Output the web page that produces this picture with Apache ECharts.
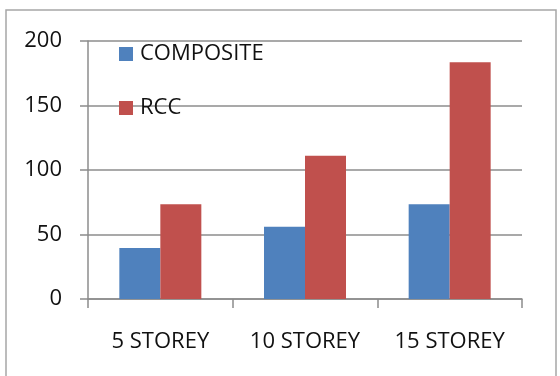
<!DOCTYPE html>
<html>
<head>
<meta charset="utf-8">
<script src="https://cdn.jsdelivr.net/npm/echarts@6/dist/echarts.min.js"></script>
<style>
  html, body { margin: 0; padding: 0; background: #fff; }
  #chart { width: 560px; height: 376px; }
</style>
</head>
<body>
<div id="chart"></div>
<script>
// Building categories and the two framing systems compared
const categories = ['5 STOREY', '10 STOREY', '15 STOREY'];
const compositeValues = [39.5, 56, 73.5];
const rccValues = [73.5, 111, 183.5];
const yTicks = { min: 0, max: 200, interval: 50 };

const FONT = '"Open Sans", "DejaVu Sans", sans-serif';
const AXIS_GRAY = '#8c8c8c';
const TEXT_COLOR = '#111111';

const chart = echarts.init(document.getElementById('chart'), null, { renderer: 'canvas' });

chart.setOption({
  animation: false,
  backgroundColor: '#ffffff',
  textStyle: { fontFamily: FONT },
  graphic: [
    {
      type: 'rect',
      shape: { x: 6, y: 10, width: 550, height: 400 },
      style: { fill: 'none', stroke: '#a6a6a6', lineWidth: 1.5 },
      z: -1
    }
  ],
  legend: {
    orient: 'vertical',
    left: 114,
    top: 38,
    itemWidth: 14,
    itemHeight: 14,
    itemGap: 32,
    icon: 'rect',
    textStyle: {
      fontFamily: FONT,
      fontSize: 22,
      lineHeight: 22,
      color: TEXT_COLOR,
      padding: [0, 0, 0, 2]
    },
    data: ['COMPOSITE', 'RCC']
  },
  grid: { left: 88, right: 38, top: 41, bottom: 77 },
  xAxis: {
    type: 'category',
    data: categories,
    axisLine: { show: true, lineStyle: { color: AXIS_GRAY, width: 1.5 } },
    axisTick: { show: true, length: 9, alignWithLabel: false, lineStyle: { color: AXIS_GRAY, width: 1.5 } },
    axisLabel: { fontFamily: FONT, fontSize: 22, color: TEXT_COLOR, margin: 32 }
  },
  yAxis: {
    type: 'value',
    min: yTicks.min,
    max: yTicks.max,
    interval: yTicks.interval,
    axisLine: { show: true, lineStyle: { color: AXIS_GRAY, width: 1.5 } },
    axisTick: { show: true, length: 8, lineStyle: { color: AXIS_GRAY, width: 1.5 } },
    axisLabel: { fontFamily: FONT, fontSize: 22, color: TEXT_COLOR, margin: 26 },
    splitLine: { show: true, lineStyle: { color: AXIS_GRAY, width: 1.5 } }
  },
  series: [
    {
      name: 'COMPOSITE',
      type: 'bar',
      data: compositeValues,
      barWidth: 41,
      barGap: '0%',
      itemStyle: { color: '#4f81bd' }
    },
    {
      name: 'RCC',
      type: 'bar',
      data: rccValues,
      barWidth: 41,
      barGap: '0%',
      itemStyle: { color: '#c0504d' }
    }
  ]
});
</script>
</body>
</html>
